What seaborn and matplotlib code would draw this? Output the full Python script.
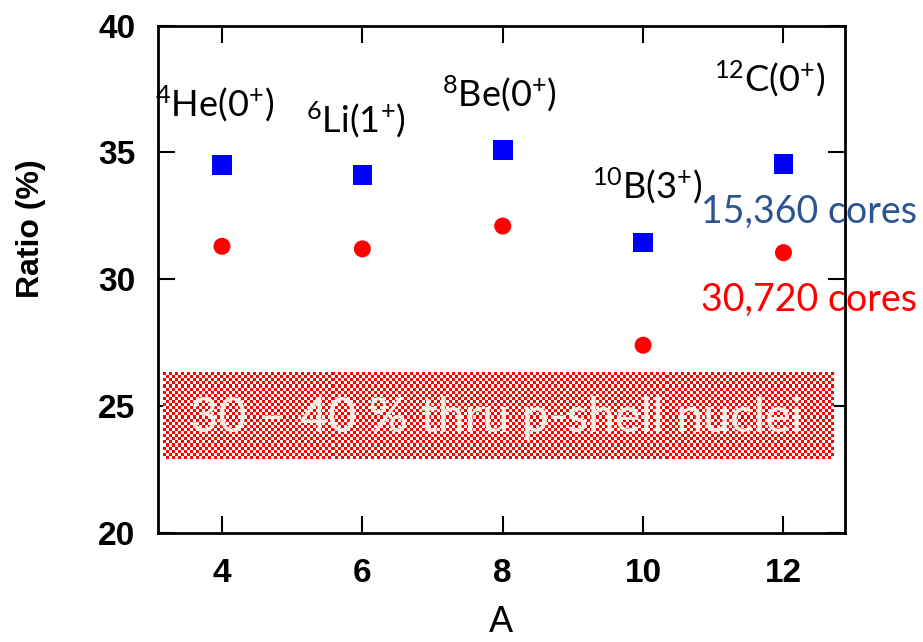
import numpy as np
import pandas as pd
import matplotlib
matplotlib.use("Agg")
import matplotlib.pyplot as plt
import seaborn as sns

# Mass number of each nucleus and the ratios for the two core counts
mass_number = [4, 6, 8, 10, 12]
ratio_15360 = [34.5, 34.1, 35.1, 31.45, 34.55]
ratio_30720 = [31.3, 31.2, 32.1, 27.4, 31.05]
nucleus_labels = [r"$^{4}$He(0$^{+}$)", r"$^{6}$Li(1$^{+}$)", r"$^{8}$Be(0$^{+}$)",
                  r"$^{10}$B(3$^{+}$)", r"$^{12}$C(0$^{+}$)"]
label_x = [3.9, 5.91, 7.96, 10.06, 11.8]
label_y = [36.9, 36.3, 37.3, 33.7, 37.9]
band_low, band_high = 22.9, 26.3
yticks = [20, 25, 30, 35, 40]
xticks = [4, 6, 8, 10, 12]

sns.set_theme(style="ticks")

body = "Lato"
plt.rcParams["font.family"] = [body, "DejaVu Sans"]
plt.rcParams["mathtext.fontset"] = "custom"
plt.rcParams["mathtext.rm"] = body
plt.rcParams["mathtext.it"] = body
plt.rcParams["mathtext.bf"] = body
plt.rcParams["text.color"] = "black"
plt.rcParams["axes.labelcolor"] = "black"
plt.rcParams["xtick.color"] = "black"
plt.rcParams["ytick.color"] = "black"

df = pd.DataFrame({"A": mass_number, "r1": ratio_15360, "r2": ratio_30720})

fig = plt.figure(figsize=(9.23, 6.42), dpi=100)
ax = fig.add_axes([0.171, 0.170, 0.744, 0.790])

# checkered band marking the 30-40 % range
nx, ny = 223, 28
check = (np.add.outer(np.arange(ny), np.arange(nx)) % 2).astype(float)
cmap = matplotlib.colors.ListedColormap(["#ff0000", "#ffffff"])
ax.imshow(check, extent=[3.16, 12.71, band_low, band_high], aspect="auto",
          cmap=cmap, interpolation="nearest", zorder=1)
ax.text(7.9, 24.54, "30 \u2013 40 % thru p-shell nuclei", color="#f2efe6",
        fontsize=35, ha="center", va="center", zorder=2, family=[body])

sns.scatterplot(data=df, x="A", y="r1", marker="s", color="#0000ff", s=200,
                edgecolor="none", ax=ax, zorder=3)
sns.scatterplot(data=df, x="A", y="r2", marker="o", color="#ff0000", s=150,
                edgecolor="none", ax=ax, zorder=3)

for lx, ly, lab in zip(label_x, label_y, nucleus_labels):
    ax.text(lx, ly, lab, fontsize=26, ha="center", va="center", color="black",
            clip_on=False)

ax.text(12.37, 32.66, "15,360 cores", color="#2b5590", fontsize=27,
        ha="center", va="center", clip_on=False)
ax.text(12.37, 29.2, "30,720 cores", color="#ff0000", fontsize=27,
        ha="center", va="center", clip_on=False)

ax.set_xlim(3.086, 12.87)
ax.set_ylim(20, 40)
ax.set_xticks(xticks)
ax.set_yticks(yticks)
ax.set_xticklabels([str(v) for v in xticks], fontsize=24, fontweight="bold",
                   family=["Liberation Sans"])
ax.set_yticklabels([str(v) for v in yticks], fontsize=24, fontweight="bold",
                   family=["Liberation Sans"])
ax.set_xlabel("A", fontsize=26, family=["Liberation Sans"], color="black")
ax.xaxis.set_label_coords(0.5, -0.143)
ax.set_ylabel("Ratio (%)", fontsize=23, fontweight="bold",
              family=["Liberation Sans"], color="black")
ax.yaxis.set_label_coords(-0.163, 0.60)
ax.tick_params(direction="in", length=12, width=1.5, top=True, right=True,
               colors="black", labelcolor="black")
ax.tick_params(axis="x", pad=18)
ax.tick_params(axis="y", pad=16)
for sp in ax.spines.values():
    sp.set_linewidth(2)
    sp.set_color("black")

fig.savefig("out.png", dpi=100)
